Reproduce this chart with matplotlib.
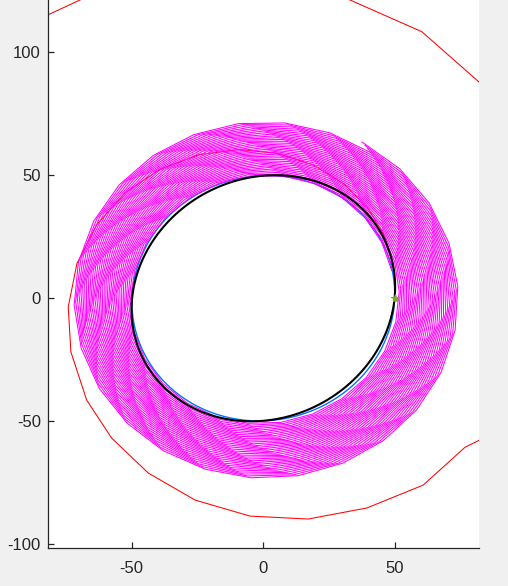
import numpy as np
import matplotlib
matplotlib.use("Agg")
import matplotlib.pyplot as plt

# ---------------- data ----------------
x_ticks = [-50, 0, 50]
y_ticks = [-100, -50, 0, 50, 100]
x_limits = (-81.9, 81.9)
y_limits = (-101.7, 121.3)

# black reference ellipse (sheared circle)
ellipse_radius = 50.0
ellipse_shear = 2.3

# blue curve (inner edge of the magenta ring)
blue_radius = 49.9
blue_shear = 0.8

# magenta ring: one-turn polygons, each drifting slightly outwards
ring_inner_radius = 49.7
ring_inner_shear = 0.8
ring_outer_radius = 73.8
ring_outer_center = (0.6, -0.3)
vertex_step_deg = 14.0
steps_per_curve = 26
curve_drift = 0.08          # share of the ring width gained in one turn
curve_start_deg = [12.25, 13.5, 14.75, 16.0, 17.25, 18.5, 19.75, 21.0, 22.25, 23.5,
                   24.75, 26.0, 27.25, 28.5, 29.75, 31.0, 32.25, 33.5, 34.75, 36.0,
                   37.25, 38.5, 39.75, 41.0, 42.25, 43.5, 44.75, 46.0, 47.25, 48.5,
                   49.75, 51.0, 52.25, 53.5, 54.75, 56.0]
curve_offset = [0.000, 0.026, 0.052, 0.079, 0.105, 0.131, 0.157, 0.183, 0.210, 0.236,
                0.262, 0.288, 0.314, 0.341, 0.367, 0.393, 0.419, 0.445, 0.472, 0.498,
                0.524, 0.550, 0.576, 0.603, 0.629, 0.655, 0.681, 0.707, 0.734, 0.760,
                0.786, 0.812, 0.838, 0.865, 0.891, 0.917]

# red spiral vertices
red_x = [50.0, 49.5, 46.1, 39.7, 30.6, 19.0, 5.5, -9.3, -24.4, -39.2, -52.5,
         -63.3, -70.8, -74.1, -73.1, -67.1, -57.6, -43.7, -25.9, -5.1, 17.0,
         39.3, 60.7, 76.6, 92.0, 105.0, 110.0, 108.0, 95.0, 60.2, 20.0,
         -20.0, -52.1, -95.0, -120.0]
red_y = [0.6, 13.0, 25.3, 36.7, 46.5, 54.2, 58.9, 60.5, 58.4, 52.5, 42.9,
         29.9, 14.1, -3.5, -21.8, -41.4, -56.9, -71.1, -82.1, -88.6, -89.8,
         -85.3, -76.0, -60.6, -52.5, -30.0, -5.0, 25.0, 75.6, 108.4, 127.4,
         134.0, 130.0, 108.7, 80.0]

start_point = (50.0, 0.0)

# ---------------- figure ----------------
W, H = 508, 586
fig = plt.figure(figsize=(W / 100, H / 100), dpi=100, facecolor="#f0f0f0")
ax = fig.add_axes([47.7 / W, (H - 548.3) / H, (479.0 - 47.7) / W, 548.3 / H])
ax.set_facecolor("white")

t = np.deg2rad(np.arange(0, 361, 2))

# red spiral (underneath)
ax.plot(red_x, red_y, color=(1, 0, 0), lw=0.75, zorder=1)

# blue curve
bx = blue_radius * np.cos(t) + blue_shear * np.sin(t)
by = blue_shear * np.cos(t) + blue_radius * np.sin(t)
ax.plot(bx, by, color=(0.0, 0.45, 1.0), lw=1.0, zorder=2)

# magenta polygons
for a0, s0 in zip(curve_start_deg, curve_offset):
    j = np.arange(steps_per_curve + 1)
    phi = np.deg2rad(a0 + vertex_step_deg * j)
    s = s0 + curve_drift * j / steps_per_curve
    ix = ring_inner_radius * np.cos(phi) + ring_inner_shear * np.sin(phi)
    iy = ring_inner_shear * np.cos(phi) + ring_inner_radius * np.sin(phi)
    ox = ring_outer_center[0] + ring_outer_radius * np.cos(phi)
    oy = ring_outer_center[1] + ring_outer_radius * np.sin(phi)
    ax.plot((1 - s) * ix + s * ox, (1 - s) * iy + s * oy,
            color=(1, 0, 1), lw=0.75, zorder=3)

# black ellipse
ex = ellipse_radius * np.cos(t) + ellipse_shear * np.sin(t)
ey = ellipse_shear * np.cos(t) + ellipse_radius * np.sin(t)
ax.plot(ex, ey, color="black", lw=1.5, zorder=4)

# start marker
ax.plot([start_point[0]], [start_point[1]], marker="*", color=(0.466, 0.674, 0.188),
        ms=6, mew=0.8, linestyle="none", zorder=5)

ax.set_xlim(*x_limits)
ax.set_ylim(*y_limits)
ax.set_xticks(x_ticks)
ax.set_yticks(y_ticks)
ax.set_xticklabels([str(v) for v in x_ticks])
ax.set_yticklabels([str(v) for v in y_ticks])
for side in ("top", "right"):
    ax.spines[side].set_visible(False)
for side in ("left", "bottom"):
    ax.spines[side].set_color("#262626")
    ax.spines[side].set_linewidth(0.9)
ax.tick_params(direction="in", length=4, width=0.9, colors="#262626",
               labelsize=12)
ax.tick_params(axis="x", pad=9)
ax.tick_params(axis="y", pad=5)
for lab in ax.get_xticklabels() + ax.get_yticklabels():
    lab.set_fontfamily("Liberation Sans")

fig.savefig("out.png", dpi=100, facecolor=fig.get_facecolor())
